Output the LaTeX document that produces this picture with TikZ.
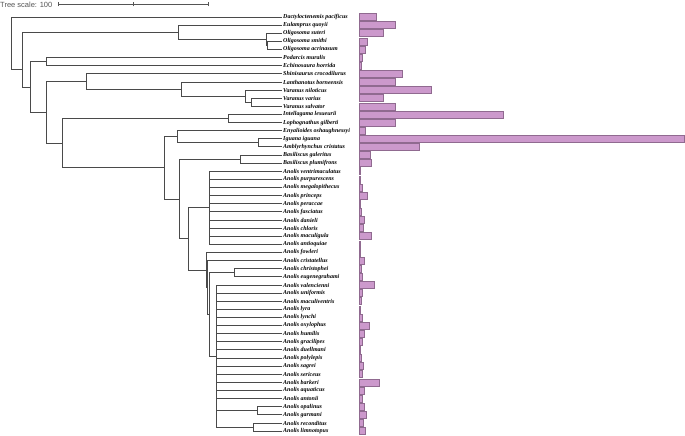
\documentclass[tikz,border=0pt]{standalone}
\usepackage{fontspec}
\setmainfont{Liberation Serif}
\newfontfamily\scalefont{Liberation Sans}
\definecolor{branch}{HTML}{4A4A4A}
\definecolor{barfill}{HTML}{CC99CC}
\definecolor{barline}{HTML}{906A90}
\definecolor{scalegray}{HTML}{555555}
\tikzset{
  br/.style={draw=branch, line width=0.9pt},
  lab/.style={anchor=west, inner sep=0.6pt, font=\fontsize{6}{7}\selectfont\bfseries\itshape, text=black},
  barbox/.style={fill=barfill, draw=barline, line width=0.6pt},
  scalebar/.style={draw=scalegray, line width=0.6pt}
}
\begin{document}
\begin{tikzpicture}[x=1pt,y=-1pt]
\useasboundingbox (0,0) rectangle (685,436);
% scale
\node[anchor=west, inner sep=0pt, font=\scalefont\fontsize{7.5}{8}\selectfont, text=scalegray] (sc) at (0,4.6) {Tree scale: 100};
\coordinate (s1) at (58.7,4.3);
\coordinate (s2) at (133.3,4.3);
\coordinate (s3) at (208.3,4.3);
\draw[scalebar] (s1) -- (s3);
\foreach \s in {s1,s2,s3} \draw[scalebar] ([yshift=-2]\s) -- ([yshift=2]\s);
% tip labels
\foreach \nm [count=\i] in {Dactyloctenemis pacificus, Eulamprus quoyii, Oligosoma suteri, Oligosoma smithi, Oligosoma acrinasum, Podarcis muralis, Echinosaura horrida, Shinisaurus crocodilurus, Lanthanotus borneensis, Varanus niloticus, Varanus varius, Varanus salvator, Intellagama lesueurii, Lophognathus gilberti, Enyalioides oshaughnessyi, Iguana iguana, Amblyrhynchus cristatus, Basiliscus galeritus, Basiliscus plumifrons, Anolis ventrimaculatus, Anolis purpurescens, Anolis megalopithecus, Anolis princeps, Anolis peraccae, Anolis fasciatus, Anolis danieli, Anolis chloris, Anolis maculigula, Anolis antioquiae, Anolis fowleri, Anolis cristatellus, Anolis christophei, Anolis eugenegrahami, Anolis valencienni, Anolis uniformis, Anolis maculiventris, Anolis lyra, Anolis lynchi, Anolis oxylophus, Anolis humilis, Anolis gracilipes, Anolis duellmani, Anolis polylepis, Anolis sagrei, Anolis sericeus, Anolis barkeri, Anolis aquaticus, Anolis antonii, Anolis opalinus, Anolis garmani, Anolis reconditus, Anolis limnotopus}
  {\node[lab] (t\i) at (282.4,{17+(\i-1)*8.12}) {\nm};}
% bars
\foreach \w [count=\i] in {376.7,395.7,383.7,367,365.7,362.3,361,402.7,395.3,431.7,383.7,395.3,503.7,395.3,365,684.3,419.7,370,371.7,360.7,360,362.7,367.3,360.7,361.7,364,363.3,371.7,360.7,360,364.7,361.7,362.7,374.7,362.7,361.3,360.7,362.7,369.7,364.3,362.7,360.3,361.3,363.3,362.7,379,364.3,362.7,364.3,366,363.3,365}
  {\draw[barbox] (359.3,{17+(\i-1)*8.12-3.5}) rectangle (\w,{17+(\i-1)*8.12+3.5});}
% internal nodes
\coordinate (root) at (11,43);
\coordinate (n22) at (22,69);
\coordinate (nEO) at (178,32.1);
\coordinate (nOl) at (266,39.2);
\coordinate (nSA) at (267.5,45.5);
\coordinate (n30) at (30,87);
\coordinate (nPE) at (46,61.7);
\coordinate (n46) at (46,112.4);
\coordinate (nSV) at (86.7,81.6);
\coordinate (nLV) at (181,89.1);
\coordinate (nV) at (245,96.2);
\coordinate (nVV) at (251.7,102.3);
\coordinate (n62) at (62,143.2);
\coordinate (nIL) at (228.7,118.5);
\coordinate (n164) at (164,167.9);
\coordinate (nEI) at (177.7,136.8);
\coordinate (nIA) at (258,142.9);
\coordinate (n179) at (179,199);
\coordinate (nB) at (240.7,159.1);
\coordinate (n188) at (188.7,238.9);
\coordinate (nPa) at (209.3,207.85);
\coordinate (nA) at (206,270);
\coordinate (nBB) at (207.7,287.5);
\coordinate (nD) at (209.5,314.4);
\coordinate (nCE) at (234,272.8);
\coordinate (nPb) at (216,356);
\coordinate (nOG) at (257.7,410.9);
\coordinate (nRL) at (253.3,427.1);
% branches
\foreach \p/\c in {root/t1.west, root/n22, n22/nEO, n22/n30, nEO/t2.west, nEO/nOl, nOl/t3.west, nOl/nSA, nSA/t4.west, nSA/t5.west,
  n30/nPE, n30/n46, nPE/t6.west, nPE/t7.west, n46/nSV, n46/n62, nSV/t8.west, nSV/nLV, nLV/t9.west, nLV/nV, nV/t10.west, nV/nVV, nVV/t11.west, nVV/t12.west,
  n62/nIL, n62/n164, nIL/t13.west, nIL/t14.west, n164/nEI, n164/n179, nEI/t15.west, nEI/nIA, nIA/t16.west, nIA/t17.west,
  n179/nB, n179/n188, nB/t18.west, nB/t19.west, n188/nPa, n188/nA, nA/t30.west, nA/nBB, nBB/t31.west, nBB/nD, nD/nCE, nD/nPb,
  nCE/t32.west, nCE/t33.west, nPb/nOG, nPb/nRL, nOG/t49.west, nOG/t50.west, nRL/t51.west, nRL/t52.west}
  {\draw[br] (\p) |- (\c);}
\foreach \i in {20,...,29} {\draw[br] (nPa) |- (t\i.west);}
\foreach \i in {34,...,48} {\draw[br] (nPb) |- (t\i.west);}
\end{tikzpicture}
\end{document}
